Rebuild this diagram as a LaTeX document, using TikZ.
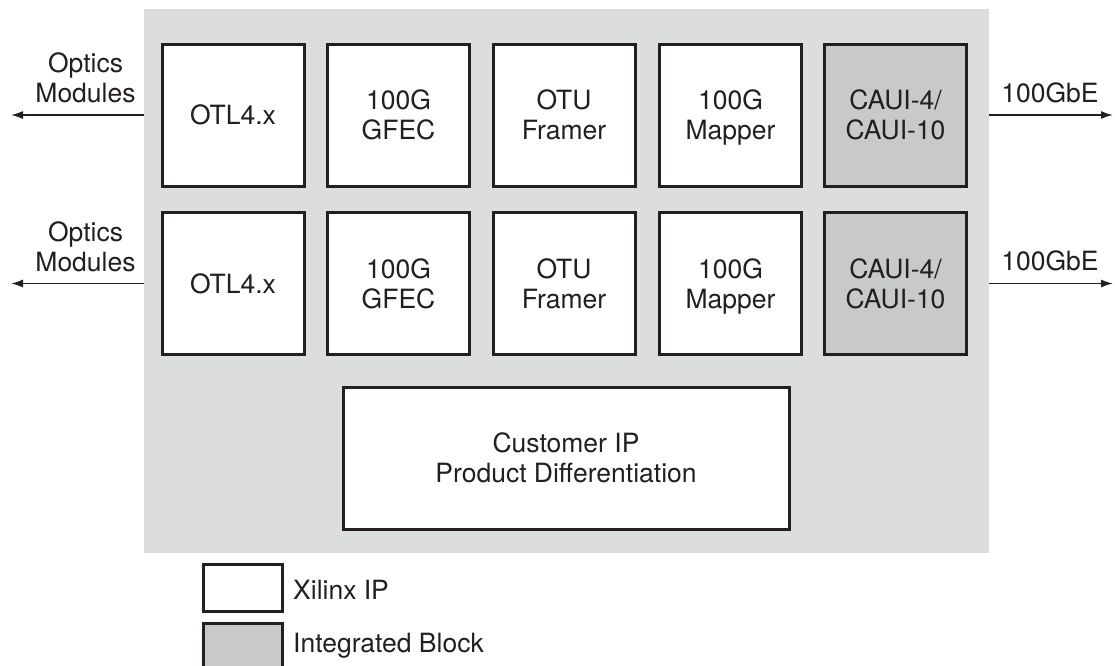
\documentclass[tikz,border=0pt]{standalone}
\usepackage{fontspec}
\setmainfont{TeX Gyre Heros}
\usetikzlibrary{arrows.meta}
\definecolor{bggray}{RGB}{220,221,223}
\definecolor{intgray}{RGB}{200,201,203}
\definecolor{ink}{RGB}{35,31,32}
\tikzset{
  txt/.style={font=\fontsize{26.5}{30}\selectfont, text=ink, inner sep=0pt},
  ipbox/.style={txt, draw=ink, line width=3pt, fill=white, minimum width=142pt, minimum height=142pt, align=center, text depth=0pt},
  intbox/.style={ipbox, fill=intgray},
  io/.style={draw=ink, line width=1.5pt, -{Latex[length=12pt,width=8pt]}},
  lbl/.style={txt, align=center}
}
\begin{document}
\begin{tikzpicture}[x=1pt,y=-1pt]
\useasboundingbox (0,0) rectangle (1115,665);
\node[fill=bggray, minimum width=845pt, minimum height=544pt, inner sep=0pt] (bg) at (566.5,281) {};
% row 1
\node[ipbox] (a1) at (233,115) {OTL4.x};
\node[ipbox] (b1) at (398.5,115) {100G\\GFEC};
\node[ipbox] (c1) at (564,115) {OTU\\Framer};
\node[ipbox] (d1) at (730.5,115) {100G\\Mapper};
\node[intbox] (e1) at (895.5,115) {CAUI-4/\\CAUI-10};
% row 2
\node[ipbox] (a2) at (233,283.5) {OTL4.x};
\node[ipbox] (b2) at (398.5,283.5) {100G\\GFEC};
\node[ipbox] (c2) at (564,283.5) {OTU\\Framer};
\node[ipbox] (d2) at (730.5,283.5) {100G\\Mapper};
\node[intbox] (e2) at (895.5,283.5) {CAUI-4/\\CAUI-10};
% customer
\node[ipbox, minimum width=446pt] (cust) at (566,458) {Customer IP\\Product Differentiation};
% arrows
\coordinate (l1) at (11,115);
\coordinate (l2) at (11,283.5);
\coordinate (r1) at (1113,115);
\coordinate (r2) at (1113,283.5);
\draw[io] (bg.west |- a1) -- (l1);
\draw[io] (bg.west |- a2) -- (l2);
\draw[io] (bg.east |- e1) -- (r1);
\draw[io] (bg.east |- e2) -- (r2);
\node[lbl] (om1) at (85.5,78) {Optics\\Modules};
\node[lbl] (om2) at (85.5,247) {Optics\\Modules};
\node[lbl] (ge1) at (1050,92.5) {100GbE};
\node[lbl] (ge2) at (1050,261) {100GbE};
% legend
\begin{scope}
\clip (0,0) rectangle (1115,665);
\node[ipbox, minimum width=79pt, minimum height=47pt] (lg1) at (242.5,587.5) {};
\node[intbox, minimum width=79pt, minimum height=47pt] (lg2) at (242.5,646.5) {};
\end{scope}
\node[txt, anchor=base west] (lt1) at (293,599) {Xilinx IP};
\node[txt, anchor=base west] (lt2) at (293,652) {Integrated Block};
\end{tikzpicture}
\end{document}
